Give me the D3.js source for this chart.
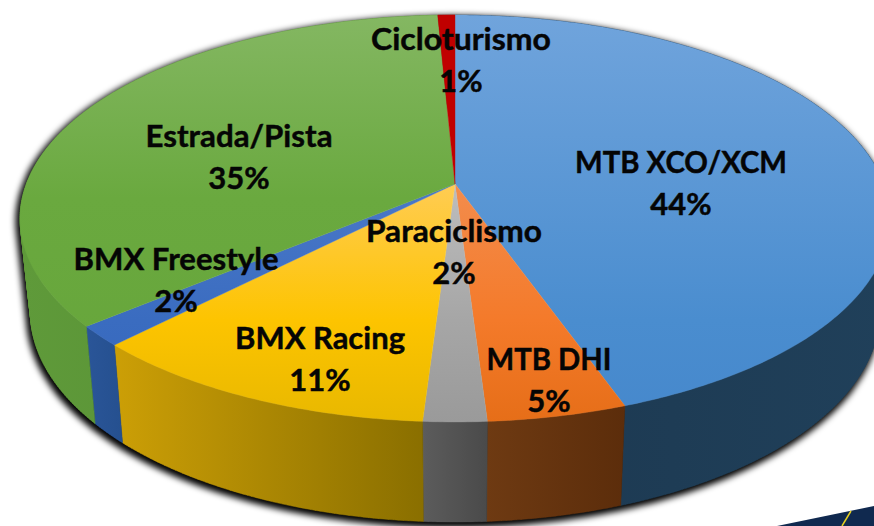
<!DOCTYPE html>
<html><head><meta charset="utf-8">
<script src="https://cdn.jsdelivr.net/npm/d3@7"></script>
<style>html,body{margin:0;padding:0;background:#fff;overflow:hidden}svg{display:block}text{font-family:Lato,"Open Sans",sans-serif;font-weight:700;fill:#050505;stroke:#050505;stroke-width:.45px}</style>
</head><body><svg id="c" width="874" height="526"></svg>
<script>
const categories=["MTB XCO/XCM","MTB DHI","Paraciclismo","BMX Racing","BMX Freestyle","Estrada/Pista","Cicloturismo"];
const sliceShares=[44.6,4.4,2.0,11.3,1.6,35.35,0.75];
const percentLabels=["44%","5%","2%","11%","2%","35%","1%"];
const topLight=["#70a4dc","#f38c4c","#bdbdbd","#ffcc52","#4a78c8","#84b762","#c00000"];
const topMid=["#4a8dcf","#f47a2a","#a6a6a6","#fdc400","#3a6cc0","#6aa93f","#c00000"];
const topDark=["#4688cc","#e66e18","#9a9a9a","#e8b800","#3566bc","#66a53a","#c00000"];
const midStop=[0.75,0.75,0.75,0.75,0.75,0.45,0.75];
const sideLight=["#1c3850","#6e3a12","#5c5c5c","#cc9f06","#2a5598","#5f9a3a","#7a0000"];
const sideDark=["#20405a","#5c2d0b","#4a4a4a","#8a6f00","#25508f","#528a30","#7a0000"];

// Layout of the projected disc
const W=874,H=526,cx=455,k=0.1695,R=428.7;
const project=(a,{y0,ay,rx})=>{const u=Math.sin(a),v=-Math.cos(a),d=1-k*v;return [cx+rx*u/d,y0+ay*v/d];};
const topRim={y0:184,ay:197.6,rx:R},botRim={y0:277,ay:197.6*1.03,rx:R*0.976};
const labelAt=[[681,163],[549,360],[454,232],[320,339],[176,260],[239,137],[461,40]];
const labelWidth=[212,125,176,170,205,187,180];
const lineGap=41.5;

const svg=d3.select("#c"),defs=svg.append("defs");
const pie=d3.pie().sort(null).value(d=>d)(sliceShares);
const line=d3.line();
const rim=(s,e,g)=>{const n=Math.max(2,Math.ceil((e-s)/0.01));return d3.range(n+1).map(i=>project(s+(e-s)*i/n,g));};

const blur=defs.append("filter").attr("id","sh").attr("x","-10%").attr("y","-10%").attr("width","120%").attr("height","125%");
blur.append("feGaussianBlur").attr("stdDeviation",3);

pie.forEach((p,i)=>{
  const t=defs.append("linearGradient").attr("id","t"+i).attr("gradientUnits","userSpaceOnUse").attr("x1",0).attr("x2",0).attr("y1",15).attr("y2",422);
  t.append("stop").attr("offset",i>=1&&i<=4?0.42:0).attr("stop-color",topLight[i]);
  t.append("stop").attr("offset",midStop[i]).attr("stop-color",topMid[i]);
  t.append("stop").attr("offset",1).attr("stop-color",topDark[i]);
  const pts=rim(p.startAngle,p.endAngle,botRim).concat(rim(p.startAngle,p.endAngle,topRim));
  const xs=d3.extent(pts,d=>d[0]);
  const g=defs.append("linearGradient").attr("id","s"+i).attr("gradientUnits","userSpaceOnUse").attr("x1",xs[0]).attr("x2",xs[1]).attr("y1",0).attr("y2",0);
  g.append("stop").attr("offset",0).attr("stop-color",sideLight[i]);
  g.append("stop").attr("offset",1).attr("stop-color",sideDark[i]);
});

// The wall is a strip of quads, each wound the same way so the fold at the silhouette stays filled
const sidePath=p=>{
  const a=rim(p.startAngle,p.endAngle,topRim),b=rim(p.startAngle,p.endAngle,botRim);
  return d3.range(a.length-1).map(i=>{
    const q=[a[i],a[i+1],b[i+1],b[i]];
    if(d3.polygonArea(q)<0)q.reverse();
    return line(q)+"Z";
  }).join("");
};
const topPath=p=>line([[cx,topRim.y0]].concat(rim(p.startAngle,p.endAngle,topRim)))+"Z";

// soft shadow
svg.append("g").attr("filter","url(#sh)").attr("transform","translate(-2,3)")
  .selectAll("path").data(pie).join("path").attr("d",sidePath).attr("fill","#000").attr("stroke","#000").attr("stroke-width",5);

// decoration cropped at the lower right corner
svg.append("polygon").attr("points","777,526 874,506 874,526").attr("fill","#10294f");
svg.append("line").attr("x1",851).attr("y1",511).attr("x2",842).attr("y2",526).attr("stroke","#e6d020").attr("stroke-width",1.5);

svg.append("g").selectAll("path").data(pie).join("path").attr("d",sidePath)
  .attr("fill",(d,i)=>`url(#s${i})`).attr("stroke",(d,i)=>`url(#s${i})`).attr("stroke-width",.5);
svg.append("g").selectAll("path").data(pie).join("path").attr("d",topPath)
  .attr("fill",(d,i)=>`url(#t${i})`).attr("stroke",(d,i)=>`url(#t${i})`).attr("stroke-width",.4);

const lab=svg.append("g").attr("text-anchor","middle").attr("font-size",31);
categories.forEach((c,i)=>{
  lab.append("text").attr("x",labelAt[i][0]).attr("y",labelAt[i][1]+10)
    .attr("textLength",labelWidth[i]).attr("lengthAdjust","spacingAndGlyphs").text(c);
  lab.append("text").attr("x",labelAt[i][0]).attr("y",labelAt[i][1]+10+lineGap).text(percentLabels[i]);
});
</script></body></html>
